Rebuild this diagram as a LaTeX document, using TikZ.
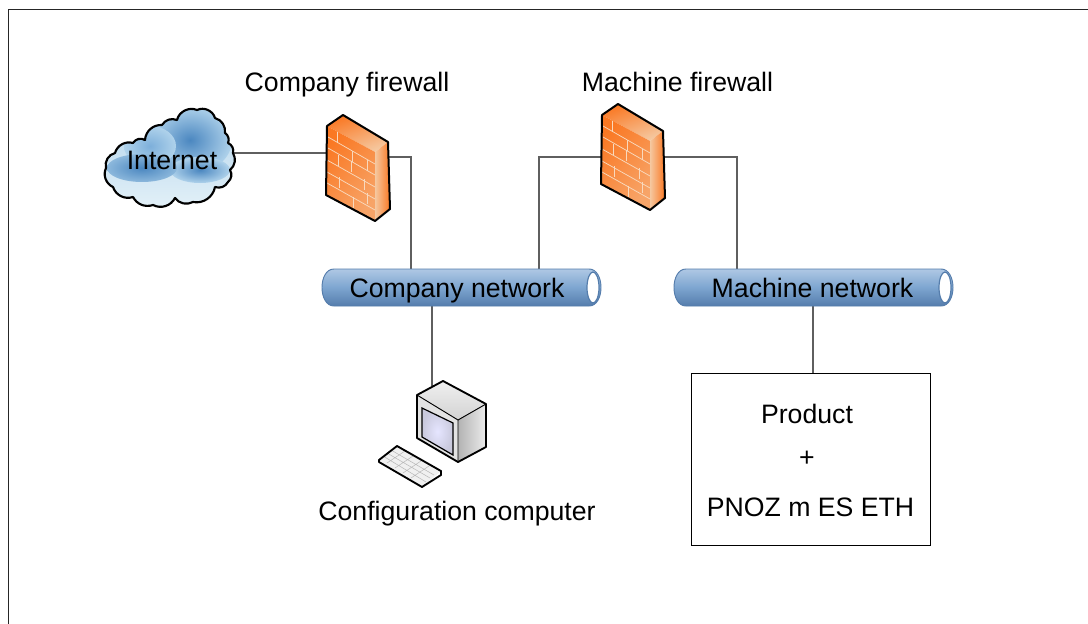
\documentclass[tikz,border=0pt]{standalone}
\usepackage{fontspec}
\setmainfont{Liberation Sans}
\usetikzlibrary{calc}
\definecolor{wire}{RGB}{95,95,95}
\definecolor{brickA}{RGB}{250,120,35}
\definecolor{brickB}{RGB}{245,200,160}
\definecolor{tubeT}{RGB}{175,200,228}
\definecolor{tubeM}{RGB}{125,165,208}
\definecolor{tubeE}{RGB}{85,125,172}
\definecolor{cloudD}{RGB}{75,135,192}
\definecolor{cloudM}{RGB}{125,175,218}
\definecolor{cloudL}{RGB}{175,210,235}
\definecolor{cloudP}{RGB}{228,241,248}
\tikzset{
  x=0.75pt,y=-0.75pt,
  wirel/.style={draw=wire,line width=0.9pt},
  lab/.style={font=\fontsize{20}{24}\selectfont,inner sep=0pt,text=black,anchor=base},
  fwline/.style={draw=black,line width=1.5pt,line join=round},
  mortar/.style={draw=brickB!70!white,line width=0.55pt},
  pcline/.style={draw=black,line width=1.4pt,line join=round},
  boxnode/.style={draw=black,line width=0.8pt,minimum width=179.25pt,minimum height=129pt,inner sep=0pt},
}
\newcommand{\cloudoutline}{(106,168) to[bend left=45] (115,153) to[bend left=45] (133,143) to[bend left=45] (145,140) to[bend left=45] (162,125) to[bend left=40] (177,120) to[bend left=50] (197,110) to[bend left=50] (215,118) to[bend left=40] (225,133) to[bend left=40] (228,143) to[bend left=40] (233,153) to[bend left=40] (230,170) to[bend left=40] (228,182) to[bend left=40] (215,187) to[bend left=45] (193,202) to[bend left=40] (175,198) to[bend left=45] (153,205) to[bend left=40] (133,197) to[bend left=45] (113,187) to[bend left=45] cycle}
\newcommand{\firewall}[2]{%
  \begin{scope}[shift={(#1,#2)}]
    \shade[left color=brickA,right color=brickB,shading angle=20] (0,11) -- (16,0) -- (61,27) -- (48,37) -- cycle;
    \shade[left color=brickA,right color=brickB!55!brickA,shading angle=50] (0,11) -- (48,37) -- (48,106) -- (-1,80) -- cycle;
    \shade[left color=brickB,right color=brickA] (48,37) -- (61,27) -- (63,94) -- (48,106) -- cycle;
    \draw[mortar] (1,22)--(48,49) (1,33)--(48,60) (0,45)--(48,72) (0,57)--(48,84) (0,68)--(48,95);
    \draw[mortar] (10,17)--(10,28) (25,36)--(25,47) (11,40)--(11,51) (40,45)--(40,56) (24,46)--(24,57) (37,64)--(37,75) (12,62)--(12,73) (26,82)--(26,93) (40,78)--(40,89);
    \draw[fwline] (0,11) -- (16,0) -- (61,27) -- (63,94) -- (48,106) -- (-1,80) -- cycle;
  \end{scope}}
\newcommand{\tube}[3]{%
  \def\tubepath{(#1+12,#2) -- (#1+267,#2) .. controls (#1+283,#2) and (#1+283,#2+37) .. (#1+267,#2+37) -- (#1+12,#2+37) .. controls (#1-4,#2+37) and (#1-4,#2) .. (#1+12,#2) -- cycle}
  \shade[top color=tubeT,bottom color=tubeE,middle color=tubeM] \tubepath;
  \draw[draw=tubeE,line width=0.7pt] \tubepath;
  \draw[draw=tubeE,line width=0.9pt,fill=white] (#1+271,#2+18.5) ellipse[x radius=6,y radius=15.5];
  \coordinate (#3) at (#1+139.5,#2+18.5);}
\begin{document}
\begin{tikzpicture}
\useasboundingbox (0,0) rectangle (1088,624);
\fill[white] (0,0) rectangle (1088,624);
\draw[draw=black!85,line width=0.8pt] (8.5,624) -- (8.5,9.5) -- (1088,9.5);

% connectors
\coordinate (cloudR) at (232,153);
\coordinate (fwAL) at (327,153);
\coordinate (fwAR) at (389,157);
\coordinate (fwBL) at (602,157);
\coordinate (fwBR) at (665,157);
\coordinate (cnA) at (411,269);
\coordinate (cnB) at (539,269);
\coordinate (cnC) at (432,306);
\coordinate (pcT) at (432,386);
\coordinate (mnA) at (737,269);
\coordinate (mnB) at (813,306);
\node[boxnode,anchor=north west] (prod) at (691,373) {};
\draw[wirel] (cloudR) -- (fwAL);
\draw[wirel] (fwAR) -| (cnA);
\draw[wirel] (fwBL) -| (cnB);
\draw[wirel] (fwBR) -| (mnA);
\draw[wirel] (cnC) -- (pcT);
\draw[wirel] (mnB) -- (prod.north -| mnB);

% cloud
\begin{scope}
  \path[clip] \cloudoutline;
  \shade[top color=cloudL,bottom color=cloudP] (100,105) rectangle (240,210);
  \shade[inner color=cloudD,outer color=cloudL] (190,140) ellipse[x radius=42,y radius=34];
  \shade[inner color=cloudM,outer color=cloudL] (150,146) ellipse[x radius=26,y radius=20];
  \shade[inner color=cloudD,outer color=cloudL] (200,170) ellipse[x radius=30,y radius=13];
  \shade[inner color=cloudD,outer color=cloudD!35!cloudL] (142,168) ellipse[x radius=35,y radius=14];
\end{scope}
\draw[draw=black,line width=1.6pt,line join=round] \cloudoutline;

\firewall{327}{115}
\firewall{602}{104}
\tube{322}{269}{cn}
\tube{674}{269}{mn}

% computer
\shade[top color=gray!12,bottom color=gray!35] (417,395) -- (443,381) -- (486,404) -- (458,420) -- cycle;
\shade[left color=gray!60,right color=gray!15] (458,420) -- (486,404) -- (486,447) -- (458,462) -- cycle;
\fill[gray!22] (417,395) -- (458,420) -- (458,462) -- (417,438) -- cycle;
\draw[pcline] (417,395) -- (443,381) -- (486,404) -- (486,447) -- (458,462) -- (417,438) -- cycle;
\draw[draw=black,line width=0.7pt] (417,395) -- (458,420) -- (486,404) (458,420) -- (458,462);
\shade[draw=black,line width=0.9pt,inner color=white!90!blue,outer color=blue!22!gray!35] (422,408) -- (453,423) -- (453,455) -- (422,437) -- cycle;
\fill[gray!12] (397,446) -- (441,471) -- (422,487) -- (379,460) -- cycle;
\draw[draw=gray!55,line width=0.4pt] (391,450) -- (434,475) (387,453) -- (430,478) (383,456)--(426,482) (405,451)--(387,463) (413,456)--(395,468) (421,461)--(403,473) (429,466)--(411,478);
\draw[pcline] (397,446) -- (441,471) -- (441,475) -- (422,487) -- (379,462) -- (379,460) -- cycle;

% labels
\node[lab] (tA) at (347,91.5) {Company firewall};
\node[lab] (tB) at (677.5,91.5) {Machine firewall};
\node[lab] (tI) at (172,170) {Internet};
\node[lab] (tC) at (457,297) {Company network};
\node[lab] (tM) at (812.5,297) {Machine network};
\node[lab] (tP) at (457,520) {Configuration computer};
\node[lab] (t1) at (807,423) {Product};
\node[lab] (t2) at (807,466) {+};
\node[lab] (t3) at (810.5,516) {PNOZ m ES ETH};
\end{tikzpicture}
\end{document}
